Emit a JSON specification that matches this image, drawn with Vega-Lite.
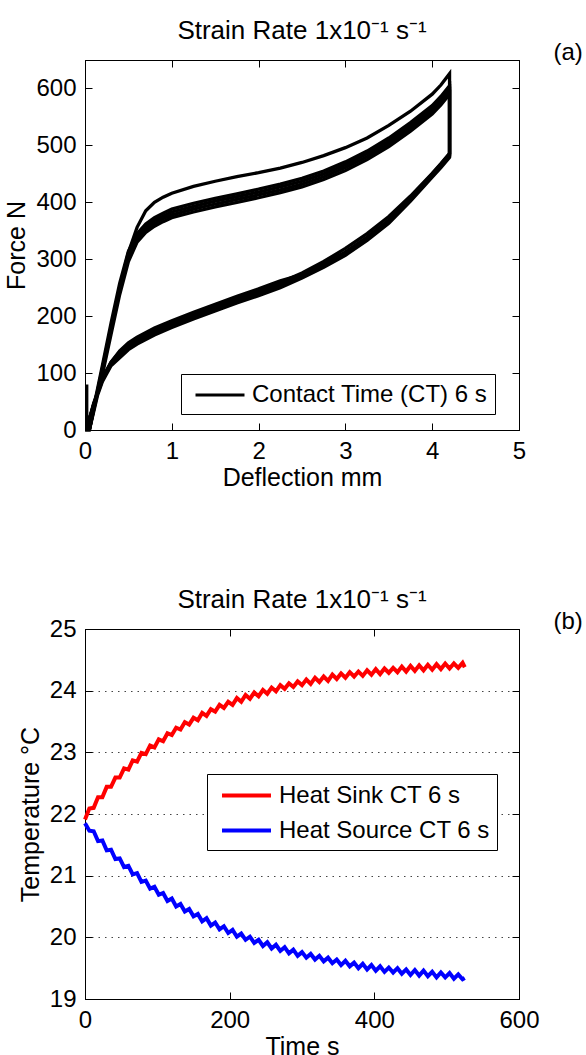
{
  "$schema": "https://vega.github.io/schema/vega-lite/v6.json",
  "padding": {"left": 4, "top": 17, "right": 0, "bottom": 0},
  "background": "white",
  "config": {
    "font": "Liberation Sans",
    "view": {"stroke": "black", "strokeWidth": 1},
    "axis": {"domainColor": "black", "tickColor": "black", "labelColor": "black", "titleColor": "black", "labelFontSize": 24, "titleFontSize": 25, "titleFontWeight": "normal", "tickSize": -7, "labelPadding": 16, "titlePadding": 2, "grid": false, "labelFlush": false, "labelOverlap": false, "labelFont": "Liberation Sans", "titleFont": "Liberation Sans"},
    "title": {"fontSize": 26, "fontWeight": "normal", "font": "Liberation Sans", "color": "black", "offset": -4, "frame": "group", "baseline": "alphabetic"},
    "legend": {"labelFontSize": 24, "labelFont": "Liberation Sans", "labelColor": "black", "strokeColor": "black", "fillColor": "white", "padding": 7, "symbolOffset": 18, "labelOffset": 18, "symbolType": "M-2,0H2", "symbolSize": 600, "labelLimit": 400, "cornerRadius": 0}
  },
  "bounds": "flush",
  "spacing": 199,
  "resolve": {"scale": {"color": "independent"}},
  "vconcat": [
    {
      "width": 434,
      "height": 370,
      "title": {"text": "Strain Rate 1x10⁻¹ s⁻¹"},
      "data": {"values": [
        {"cycle":1,"d":0.02,"f":80},{"cycle":1,"d":0.02,"f":0},{"cycle":1,"d":0.05,"f":0},{"cycle":1,"d":0.1,"f":36},{"cycle":1,"d":0.2,"f":106},{"cycle":1,"d":0.3,"f":178},{"cycle":1,"d":0.4,"f":250},{"cycle":1,"d":0.5,"f":312},{"cycle":1,"d":0.6,"f":356},{"cycle":1,"d":0.7,"f":385},{"cycle":1,"d":0.8,"f":400},{"cycle":1,"d":0.9,"f":409},{"cycle":1,"d":1.0,"f":416},{"cycle":1,"d":1.25,"f":428},{"cycle":1,"d":1.5,"f":437},{"cycle":1,"d":1.75,"f":445},{"cycle":1,"d":2.0,"f":452},{"cycle":1,"d":2.25,"f":460},{"cycle":1,"d":2.5,"f":470},{"cycle":1,"d":2.75,"f":482},{"cycle":1,"d":3.0,"f":496},{"cycle":1,"d":3.25,"f":513},{"cycle":1,"d":3.5,"f":535},{"cycle":1,"d":3.75,"f":560},{"cycle":1,"d":4.0,"f":590},{"cycle":1,"d":4.1,"f":606},{"cycle":1,"d":4.2,"f":626},{"cycle":1,"d":4.2,"f":486},{"cycle":1,"d":4.1,"f":468},{"cycle":1,"d":4.0,"f":451},{"cycle":1,"d":3.75,"f":411},{"cycle":1,"d":3.5,"f":375},{"cycle":1,"d":3.25,"f":345},{"cycle":1,"d":3.0,"f":319},{"cycle":1,"d":2.75,"f":296},{"cycle":1,"d":2.5,"f":276},{"cycle":1,"d":2.25,"f":259},{"cycle":1,"d":2.0,"f":244},{"cycle":1,"d":1.75,"f":231},{"cycle":1,"d":1.5,"f":218},{"cycle":1,"d":1.25,"f":204},{"cycle":1,"d":1.0,"f":190},{"cycle":1,"d":0.8,"f":177},{"cycle":1,"d":0.6,"f":161},{"cycle":1,"d":0.5,"f":151},{"cycle":1,"d":0.4,"f":137},{"cycle":1,"d":0.3,"f":119},{"cycle":1,"d":0.2,"f":91},{"cycle":1,"d":0.1,"f":47},{"cycle":1,"d":0.05,"f":19},{"cycle":1,"d":0.03,"f":0},
        {"cycle":2,"d":0.05,"f":0},{"cycle":2,"d":0.1,"f":40},{"cycle":2,"d":0.2,"f":113},{"cycle":2,"d":0.3,"f":188},{"cycle":2,"d":0.4,"f":258},{"cycle":2,"d":0.5,"f":314},{"cycle":2,"d":0.6,"f":345},{"cycle":2,"d":0.7,"f":362},{"cycle":2,"d":0.8,"f":373},{"cycle":2,"d":0.9,"f":381},{"cycle":2,"d":1.0,"f":388},{"cycle":2,"d":1.25,"f":398},{"cycle":2,"d":1.5,"f":407},{"cycle":2,"d":1.75,"f":415},{"cycle":2,"d":2.0,"f":423},{"cycle":2,"d":2.25,"f":432},{"cycle":2,"d":2.5,"f":442},{"cycle":2,"d":2.75,"f":455},{"cycle":2,"d":3.0,"f":471},{"cycle":2,"d":3.25,"f":490},{"cycle":2,"d":3.5,"f":513},{"cycle":2,"d":3.75,"f":540},{"cycle":2,"d":4.0,"f":570},{"cycle":2,"d":4.1,"f":586},{"cycle":2,"d":4.2,"f":605},{"cycle":2,"d":4.2,"f":485},{"cycle":2,"d":4.1,"f":467},{"cycle":2,"d":4.0,"f":450},{"cycle":2,"d":3.75,"f":408},{"cycle":2,"d":3.5,"f":369},{"cycle":2,"d":3.25,"f":339},{"cycle":2,"d":3.0,"f":313},{"cycle":2,"d":2.75,"f":292},{"cycle":2,"d":2.5,"f":273},{"cycle":2,"d":2.25,"f":262},{"cycle":2,"d":2.0,"f":248},{"cycle":2,"d":1.75,"f":235},{"cycle":2,"d":1.5,"f":221},{"cycle":2,"d":1.25,"f":207},{"cycle":2,"d":1.0,"f":192},{"cycle":2,"d":0.8,"f":179},{"cycle":2,"d":0.6,"f":163},{"cycle":2,"d":0.5,"f":153},{"cycle":2,"d":0.4,"f":139},{"cycle":2,"d":0.3,"f":119},{"cycle":2,"d":0.2,"f":91},{"cycle":2,"d":0.1,"f":45},{"cycle":2,"d":0.05,"f":18},{"cycle":2,"d":0.03,"f":0},
        {"cycle":3,"d":0.05,"f":0},{"cycle":3,"d":0.1,"f":37},{"cycle":3,"d":0.2,"f":108},{"cycle":3,"d":0.3,"f":181},{"cycle":3,"d":0.4,"f":251},{"cycle":3,"d":0.5,"f":308},{"cycle":3,"d":0.6,"f":340},{"cycle":3,"d":0.7,"f":357},{"cycle":3,"d":0.8,"f":368},{"cycle":3,"d":0.9,"f":376},{"cycle":3,"d":1.0,"f":383},{"cycle":3,"d":1.25,"f":393},{"cycle":3,"d":1.5,"f":402},{"cycle":3,"d":1.75,"f":410},{"cycle":3,"d":2.0,"f":418},{"cycle":3,"d":2.25,"f":427},{"cycle":3,"d":2.5,"f":437},{"cycle":3,"d":2.75,"f":450},{"cycle":3,"d":3.0,"f":466},{"cycle":3,"d":3.25,"f":485},{"cycle":3,"d":3.5,"f":508},{"cycle":3,"d":3.75,"f":535},{"cycle":3,"d":4.0,"f":565},{"cycle":3,"d":4.1,"f":581},{"cycle":3,"d":4.2,"f":600},{"cycle":3,"d":4.2,"f":483},{"cycle":3,"d":4.1,"f":465},{"cycle":3,"d":4.0,"f":448},{"cycle":3,"d":3.75,"f":406},{"cycle":3,"d":3.5,"f":367},{"cycle":3,"d":3.25,"f":337},{"cycle":3,"d":3.0,"f":311},{"cycle":3,"d":2.75,"f":290},{"cycle":3,"d":2.5,"f":271},{"cycle":3,"d":2.25,"f":258},{"cycle":3,"d":2.0,"f":244},{"cycle":3,"d":1.75,"f":231},{"cycle":3,"d":1.5,"f":217},{"cycle":3,"d":1.25,"f":203},{"cycle":3,"d":1.0,"f":188},{"cycle":3,"d":0.8,"f":175},{"cycle":3,"d":0.6,"f":159},{"cycle":3,"d":0.5,"f":149},{"cycle":3,"d":0.4,"f":135},{"cycle":3,"d":0.3,"f":117},{"cycle":3,"d":0.2,"f":88},{"cycle":3,"d":0.1,"f":45},{"cycle":3,"d":0.05,"f":18},{"cycle":3,"d":0.03,"f":0},
        {"cycle":4,"d":0.05,"f":0},{"cycle":4,"d":0.1,"f":35},{"cycle":4,"d":0.2,"f":102},{"cycle":4,"d":0.3,"f":175},{"cycle":4,"d":0.4,"f":245},{"cycle":4,"d":0.5,"f":302},{"cycle":4,"d":0.6,"f":335},{"cycle":4,"d":0.7,"f":352},{"cycle":4,"d":0.8,"f":363},{"cycle":4,"d":0.9,"f":371},{"cycle":4,"d":1.0,"f":378},{"cycle":4,"d":1.25,"f":388},{"cycle":4,"d":1.5,"f":397},{"cycle":4,"d":1.75,"f":405},{"cycle":4,"d":2.0,"f":413},{"cycle":4,"d":2.25,"f":422},{"cycle":4,"d":2.5,"f":432},{"cycle":4,"d":2.75,"f":445},{"cycle":4,"d":3.0,"f":461},{"cycle":4,"d":3.25,"f":480},{"cycle":4,"d":3.5,"f":503},{"cycle":4,"d":3.75,"f":530},{"cycle":4,"d":4.0,"f":560},{"cycle":4,"d":4.1,"f":576},{"cycle":4,"d":4.2,"f":595},{"cycle":4,"d":4.2,"f":481},{"cycle":4,"d":4.1,"f":463},{"cycle":4,"d":4.0,"f":446},{"cycle":4,"d":3.75,"f":404},{"cycle":4,"d":3.5,"f":365},{"cycle":4,"d":3.25,"f":335},{"cycle":4,"d":3.0,"f":309},{"cycle":4,"d":2.75,"f":288},{"cycle":4,"d":2.5,"f":269},{"cycle":4,"d":2.25,"f":254},{"cycle":4,"d":2.0,"f":240},{"cycle":4,"d":1.75,"f":227},{"cycle":4,"d":1.5,"f":213},{"cycle":4,"d":1.25,"f":199},{"cycle":4,"d":1.0,"f":184},{"cycle":4,"d":0.8,"f":171},{"cycle":4,"d":0.6,"f":155},{"cycle":4,"d":0.5,"f":145},{"cycle":4,"d":0.4,"f":131},{"cycle":4,"d":0.3,"f":115},{"cycle":4,"d":0.2,"f":88},{"cycle":4,"d":0.1,"f":45},{"cycle":4,"d":0.05,"f":18},{"cycle":4,"d":0.03,"f":0},
        {"cycle":5,"d":0.05,"f":0},{"cycle":5,"d":0.1,"f":32},{"cycle":5,"d":0.2,"f":97},{"cycle":5,"d":0.3,"f":168},{"cycle":5,"d":0.4,"f":238},{"cycle":5,"d":0.5,"f":296},{"cycle":5,"d":0.6,"f":330},{"cycle":5,"d":0.7,"f":347},{"cycle":5,"d":0.8,"f":358},{"cycle":5,"d":0.9,"f":366},{"cycle":5,"d":1.0,"f":373},{"cycle":5,"d":1.25,"f":383},{"cycle":5,"d":1.5,"f":392},{"cycle":5,"d":1.75,"f":400},{"cycle":5,"d":2.0,"f":408},{"cycle":5,"d":2.25,"f":417},{"cycle":5,"d":2.5,"f":427},{"cycle":5,"d":2.75,"f":440},{"cycle":5,"d":3.0,"f":456},{"cycle":5,"d":3.25,"f":475},{"cycle":5,"d":3.5,"f":498},{"cycle":5,"d":3.75,"f":525},{"cycle":5,"d":4.0,"f":555},{"cycle":5,"d":4.1,"f":571},{"cycle":5,"d":4.2,"f":590},{"cycle":5,"d":4.2,"f":479},{"cycle":5,"d":4.1,"f":461},{"cycle":5,"d":4.0,"f":444},{"cycle":5,"d":3.75,"f":402},{"cycle":5,"d":3.5,"f":363},{"cycle":5,"d":3.25,"f":333},{"cycle":5,"d":3.0,"f":307},{"cycle":5,"d":2.75,"f":286},{"cycle":5,"d":2.5,"f":267},{"cycle":5,"d":2.25,"f":250},{"cycle":5,"d":2.0,"f":236},{"cycle":5,"d":1.75,"f":223},{"cycle":5,"d":1.5,"f":209},{"cycle":5,"d":1.25,"f":195},{"cycle":5,"d":1.0,"f":180},{"cycle":5,"d":0.8,"f":167},{"cycle":5,"d":0.6,"f":151},{"cycle":5,"d":0.5,"f":141},{"cycle":5,"d":0.4,"f":127},{"cycle":5,"d":0.3,"f":113},{"cycle":5,"d":0.2,"f":85},{"cycle":5,"d":0.1,"f":42},{"cycle":5,"d":0.05,"f":18},{"cycle":5,"d":0.03,"f":0}
      ]},
      "layer": [
        {
          "mark": {"type": "line", "strokeWidth": 3.3},
          "encoding": {
            "x": {"field": "d", "type": "quantitative", "scale": {"domain": [0, 5], "nice": false, "zero": false}, "axis": {"values": [0, 1, 2, 3, 4, 5], "title": "Deflection mm"}},
            "y": {"field": "f", "type": "quantitative", "scale": {"domain": [0, 650], "nice": false, "zero": false}, "axis": {"values": [0, 100, 200, 300, 400, 500, 600], "title": "Force N", "titlePadding": 6}},
            "detail": {"field": "cycle", "type": "nominal"},
            "order": {"value": null},
            "color": {"datum": "Contact Time (CT) 6 s", "type": "nominal", "scale": {"range": ["black"]}, "legend": {"orient": "none", "legendX": 96, "legendY": 314, "title": null, "symbolStrokeWidth": 3}}
          }
        },
        {
          "mark": {"type": "line", "opacity": 0},
          "encoding": {
            "x": {"field": "d", "type": "quantitative", "axis": {"orient": "top", "labels": false, "title": null, "values": [0, 1, 2, 3, 4, 5]}},
            "y": {"field": "f", "type": "quantitative", "axis": {"orient": "right", "labels": false, "values": [0, 100, 200, 300, 400, 500, 600], "title": "(a)", "titleFontSize": 24, "titleAngle": 0, "titleAlign": "left", "titleBaseline": "middle", "titleX": 34, "titleY": -8}},
            "detail": {"field": "cycle", "type": "nominal"}
          }
        }
      ],
      "resolve": {"axis": {"x": "independent", "y": "independent"}}
    },
    {
      "width": 434,
      "height": 370,
      "title": {"text": "Strain Rate 1x10⁻¹ s⁻¹"},
      "data": {"values": [
        {"t":0,"sink":21.91,"source":21.85},{"t":6,"sink":22.09,"source":21.73},{"t":12,"sink":22.10,"source":21.72},{"t":18,"sink":22.27,"source":21.56},{"t":24,"sink":22.27,"source":21.57},{"t":30,"sink":22.44,"source":21.41},{"t":36,"sink":22.44,"source":21.42},{"t":42,"sink":22.59,"source":21.27},{"t":48,"sink":22.59,"source":21.28},{"t":54,"sink":22.74,"source":21.14},{"t":60,"sink":22.72,"source":21.16},{"t":66,"sink":22.87,"source":21.02},{"t":72,"sink":22.85,"source":21.04},{"t":78,"sink":22.99,"source":20.90},{"t":84,"sink":22.97,"source":20.92},{"t":90,"sink":23.11,"source":20.79},{"t":96,"sink":23.08,"source":20.82},{"t":102,"sink":23.21,"source":20.69},{"t":108,"sink":23.18,"source":20.72},{"t":114,"sink":23.31,"source":20.59},{"t":120,"sink":23.28,"source":20.63},{"t":126,"sink":23.40,"source":20.50},{"t":132,"sink":23.37,"source":20.54},{"t":138,"sink":23.49,"source":20.42},{"t":144,"sink":23.45,"source":20.46},{"t":150,"sink":23.56,"source":20.34},{"t":156,"sink":23.52,"source":20.38},{"t":162,"sink":23.64,"source":20.26},{"t":168,"sink":23.59,"source":20.31},{"t":174,"sink":23.70,"source":20.19},{"t":180,"sink":23.66,"source":20.24},{"t":186,"sink":23.77,"source":20.13},{"t":192,"sink":23.72,"source":20.18},{"t":198,"sink":23.82,"source":20.07},{"t":204,"sink":23.77,"source":20.12},{"t":210,"sink":23.88,"source":20.01},{"t":216,"sink":23.82,"source":20.06},{"t":222,"sink":23.93,"source":19.96},{"t":228,"sink":23.87,"source":20.01},{"t":234,"sink":23.97,"source":19.91},{"t":240,"sink":23.91,"source":19.96},{"t":246,"sink":24.01,"source":19.86},{"t":252,"sink":23.95,"source":19.92},{"t":258,"sink":24.05,"source":19.82},{"t":264,"sink":23.99,"source":19.88},{"t":270,"sink":24.09,"source":19.78},{"t":276,"sink":24.03,"source":19.84},{"t":282,"sink":24.12,"source":19.74},{"t":288,"sink":24.06,"source":19.80},{"t":294,"sink":24.15,"source":19.70},{"t":300,"sink":24.09,"source":19.76},{"t":306,"sink":24.18,"source":19.67},{"t":312,"sink":24.11,"source":19.73},{"t":318,"sink":24.21,"source":19.64},{"t":324,"sink":24.14,"source":19.70},{"t":330,"sink":24.23,"source":19.61},{"t":336,"sink":24.16,"source":19.67},{"t":342,"sink":24.26,"source":19.58},{"t":348,"sink":24.19,"source":19.64},{"t":354,"sink":24.28,"source":19.55},{"t":360,"sink":24.21,"source":19.62},{"t":366,"sink":24.30,"source":19.53},{"t":372,"sink":24.23,"source":19.59},{"t":378,"sink":24.31,"source":19.50},{"t":384,"sink":24.24,"source":19.57},{"t":390,"sink":24.33,"source":19.48},{"t":396,"sink":24.26,"source":19.55},{"t":402,"sink":24.35,"source":19.46},{"t":408,"sink":24.27,"source":19.53},{"t":414,"sink":24.36,"source":19.44},{"t":420,"sink":24.29,"source":19.51},{"t":426,"sink":24.37,"source":19.43},{"t":432,"sink":24.30,"source":19.50},{"t":438,"sink":24.39,"source":19.41},{"t":444,"sink":24.31,"source":19.48},{"t":450,"sink":24.40,"source":19.39},{"t":456,"sink":24.32,"source":19.47},{"t":462,"sink":24.41,"source":19.38},{"t":468,"sink":24.33,"source":19.46},{"t":474,"sink":24.42,"source":19.37},{"t":480,"sink":24.34,"source":19.44},{"t":486,"sink":24.43,"source":19.35},{"t":492,"sink":24.35,"source":19.43},{"t":498,"sink":24.44,"source":19.35},{"t":504,"sink":24.36,"source":19.42},{"t":510,"sink":24.44,"source":19.33},{"t":516,"sink":24.37,"source":19.40},{"t":522,"sink":24.45,"source":19.32},{"t":525,"sink":24.38,"source":19.34}
      ]},
      "transform": [{"fold": ["sink", "source"], "as": ["series", "temp"]}],
      "layer": [
        {
          "mark": {"type": "line", "strokeWidth": 4},
          "encoding": {
            "x": {"field": "t", "type": "quantitative", "scale": {"domain": [0, 600], "nice": false, "zero": false}, "axis": {"values": [0, 200, 400, 600], "title": "Time s"}},
            "y": {"field": "temp", "type": "quantitative", "scale": {"domain": [19, 25], "nice": false, "zero": false}, "axis": {"values": [19, 20, 21, 22, 23, 24, 25], "title": "Temperature °C", "titlePadding": 6, "grid": true, "gridDash": [1.5, 5], "gridColor": "#444", "gridWidth": 1}},
            "color": {"field": "series", "type": "nominal", "scale": {"domain": ["sink", "source"], "range": ["#ff0000", "#0000ff"]}, "legend": {"orient": "none", "legendX": 122, "legendY": 145, "title": null, "symbolStrokeWidth": 4, "rowPadding": 8, "labelExpr": "datum.value == 'sink' ? 'Heat Sink CT 6 s' : 'Heat Source CT 6 s'"}}
          }
        },
        {
          "mark": {"type": "line", "opacity": 0},
          "encoding": {
            "x": {"field": "t", "type": "quantitative", "axis": {"orient": "top", "labels": false, "title": null, "values": [0, 200, 400, 600]}},
            "y": {"field": "temp", "type": "quantitative", "axis": {"orient": "right", "labels": false, "values": [19, 20, 21, 22, 23, 24, 25], "title": "(b)", "titleFontSize": 24, "titleAngle": 0, "titleAlign": "left", "titleBaseline": "middle", "titleX": 34, "titleY": -8}},
            "detail": {"field": "series", "type": "nominal"}
          }
        }
      ],
      "resolve": {"axis": {"x": "independent", "y": "independent"}}
    }
  ]
}
